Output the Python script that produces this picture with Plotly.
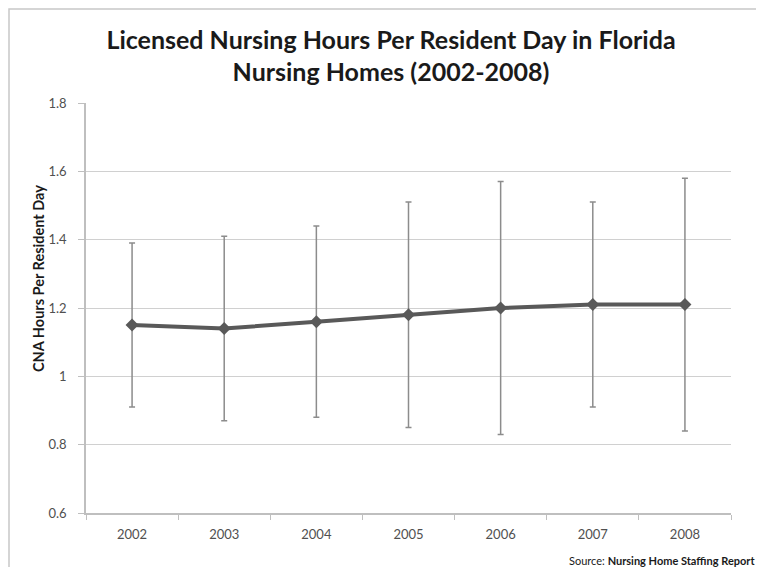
import plotly.graph_objects as go

years = ["2002", "2003", "2004", "2005", "2006", "2007", "2008"]
mean_hours = [1.15, 1.14, 1.16, 1.18, 1.20, 1.21, 1.21]
upper_hours = [1.39, 1.41, 1.44, 1.51, 1.57, 1.51, 1.58]
lower_hours = [0.91, 0.87, 0.88, 0.85, 0.83, 0.91, 0.84]
y_ticks = [0.6, 0.8, 1.0, 1.2, 1.4, 1.6, 1.8]
y_tick_labels = ["0.6", "0.8", "1", "1.2", "1.4", "1.6", "1.8"]

err_plus = [u - m for u, m in zip(upper_hours, mean_hours)]
err_minus = [m - l for m, l in zip(mean_hours, lower_hours)]

# page body adds an 8px offset; positions below are in figure coordinates
OFF = 8
W, H = 764, 567
L, T = 86 - OFF, 103 - OFF
R = W - (731 - OFF)
B = H - (513 - OFF)
pw, ph = W - L - R, H - T - B

fig = go.Figure()
fig.add_trace(go.Scatter(
    x=years, y=mean_hours, mode="lines+markers",
    line=dict(color="#595959", width=4),
    marker=dict(symbol="diamond", size=10, color="#595959"),
    error_y=dict(type="data", symmetric=False, array=err_plus, arrayminus=err_minus,
                 color="#8c8c8c", thickness=1.5, width=3),
    showlegend=False,
))

def px(x):
    return (x - OFF - L) / pw

def py(y):
    return (H - B - (y - OFF)) / ph

fig.update_layout(
    width=W, height=H,
    margin=dict(l=L, r=R, t=T, b=B),
    paper_bgcolor="white", plot_bgcolor="white",
    font=dict(family="Lato", color="#595959"),
    title=dict(
        text="Licensed Nursing Hours Per Resident Day in Florida<br>Nursing Homes (2002-2008)",
        x=px(391), xanchor="center", xref="paper", y=1 - 40.5 / H, yanchor="middle",
        font=dict(family="Lato", size=25, color="#1a1a1a", weight="bold"),
    ),
    xaxis=dict(
        type="category", range=[-0.5, 6.5],
        showgrid=False, showline=True, linecolor="#bfbfbf", linewidth=1.5,
        ticks="outside", tickson="boundaries", ticklen=5, tickcolor="#bfbfbf",
        tickfont=dict(size=13, color="#505050"), ticklabelstandoff=9,
    ),
    yaxis=dict(
        range=[0.6, 1.8], tickvals=y_ticks, ticktext=y_tick_labels,
        showgrid=True, gridcolor="#d0d0d0", gridwidth=1,
        showline=True, linecolor="#bfbfbf", linewidth=1.5,
        ticks="outside", ticklen=6, tickcolor="#bfbfbf",
        tickfont=dict(size=13, color="#505050"), ticklabelstandoff=9,
        zeroline=False,
    ),
    shapes=[dict(type="rect", xref="paper", yref="paper",
                 x0=px(9), x1=px(790), y0=py(600), y1=py(9),
                 line=dict(color="#c8c8c8", width=1.5), fillcolor="rgba(0,0,0,0)",
                 layer="below")],
    annotations=[
        dict(
            text="CNA Hours Per Resident Day",
            xref="paper", yref="paper", x=px(38), y=py(279),
            xanchor="center", yanchor="middle", textangle=-90, showarrow=False,
            font=dict(family="Lato", size=14.5, color="#1a1a1a", weight="bold"),
        ),
        dict(
            text="Source: <b>Nursing Home Staffing Report</b>",
            xref="paper", yref="paper", x=px(757), y=py(560),
            xanchor="right", yanchor="middle", showarrow=False,
            font=dict(family="Lato", size=11, color="#1a1a1a"),
        ),
    ],
)

fig.write_html("out.html")
